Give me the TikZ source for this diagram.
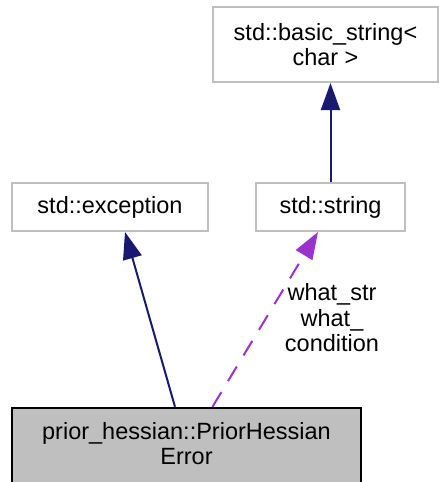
\documentclass[tikz,border=0pt]{standalone}
\usepackage{fontspec}
\setmainfont{Liberation Sans}
\usetikzlibrary{arrows.meta}
\definecolor{boxgray}{HTML}{BFBFBF}
\definecolor{navyc}{HTML}{191970}
\definecolor{purplec}{HTML}{9A32CD}
\tikzset{
  cls/.style={draw=boxgray, line width=2pt, fill=white, inner sep=0pt, align=center,
    font=\fontsize{23.5}{25.5}\selectfont},
  mainbox/.style={draw=black, line width=2.4pt, fill=boxgray, inner sep=0pt,
    font=\fontsize{23.5}{25.5}\selectfont},
  inh/.style={draw=navyc, line width=2pt, -{Triangle[length=27pt,width=19pt]}},
  usage/.style={draw=purplec, line width=2pt, dash pattern=on 17pt off 13pt, -{Triangle[length=27pt,width=19pt]}},
  lbl/.style={align=center, inner sep=0pt, font=\fontsize{23.5}{25.5}\selectfont}
}
\begin{document}
\begin{tikzpicture}[x=1pt,y=1pt]
\useasboundingbox (0,0) rectangle (439,-482);
\node[cls, minimum width=225pt, minimum height=75pt] (bs) at (325.5,-44.5) {std::basic\_string<\\char >};
\node[cls, minimum width=149pt, minimum height=48pt] (str) at (330.5,-207) {std::string};
\node[cls, minimum width=196pt, minimum height=48pt] (exc) at (110,-207) {std::exception};
\node[mainbox, minimum width=349pt, minimum height=78pt] (phe) at (186.5,-447) {\raisebox{2.5pt}{\begin{tabular}{@{}c@{}}prior\_hessian::PriorHessian\\Error\end{tabular}}};
\draw[inh] (str.north) -- (str.north |- bs.south);
\draw[inh] ([xshift=-11.5pt]phe.north) -- ([xshift=15pt]exc.south);
\draw[usage] ([xshift=26pt]phe.north) -- ([xshift=-12.5pt]str.south);
\node[lbl] (lab) at (332,-318) {what\_str\\what\_\\condition};
\end{tikzpicture}
\end{document}
